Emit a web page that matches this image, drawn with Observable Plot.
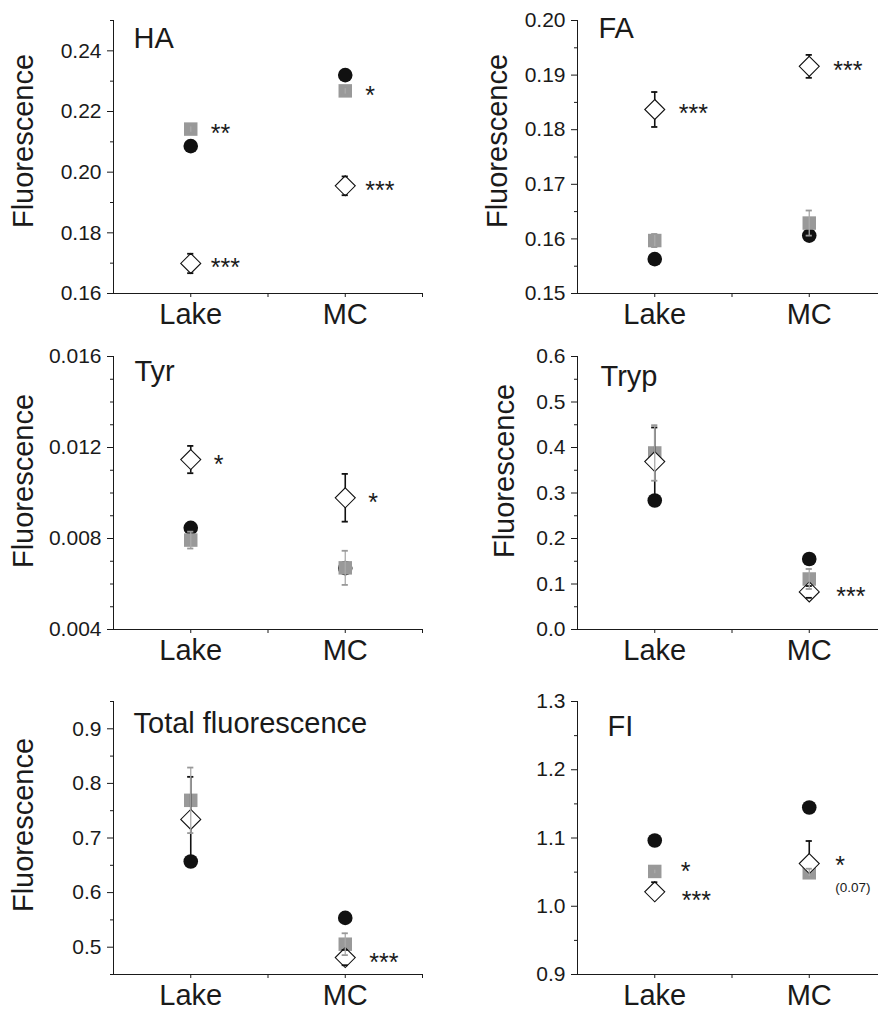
<!DOCTYPE html>
<html><head><meta charset="utf-8">
<script src="https://cdn.jsdelivr.net/npm/d3@7"></script>
<script src="https://cdn.jsdelivr.net/npm/@observablehq/plot@0.6"></script>
<style>
body{margin:0;background:#fff;}
#wrap{position:relative;width:878px;height:1012px;overflow:hidden;font-family:"Liberation Sans",Arial,sans-serif;color:#1a1a1a;}
.panel{position:absolute;width:440px;height:338px;}
.panel svg{max-width:none !important;width:440px !important;height:338px !important;}
</style></head><body><div id="wrap"></div>
<script>
// ---------- data ----------
const categories = ["Lake", "MC"];
const xDomain = [0.5, 2.5];
const xMinorTicks = [1.5, 2.5];

// HA
const HA_yDomain = [0.16, 0.25];
const HA_ticks = [0.16, 0.18, 0.20, 0.22, 0.24];
const HA_minor = [0.17, 0.19, 0.21, 0.23, 0.25];
const HA_circle = [0.2086, 0.2320];
const HA_square = [0.2142, 0.2268];
const HA_squareErr = [0.0012, 0.0012];
const HA_diamond = [0.1699, 0.1955];
const HA_diamondErr = [0.0032, 0.0031];
const HA_sigSquare = ["**", "*"];
const HA_sigDiamond = ["***", "***"];

// FA
const FA_yDomain = [0.15, 0.20];
const FA_ticks = [0.15, 0.16, 0.17, 0.18, 0.19, 0.20];
const FA_minor = [0.155, 0.165, 0.175, 0.185, 0.195];
const FA_circle = [0.1563, 0.1606];
const FA_square = [0.1597, 0.1629];
const FA_squareErr = [0.0012, 0.0023];
const FA_diamond = [0.1837, 0.1916];
const FA_diamondErr = [0.0032, 0.0021];
const FA_sigSquare = ["", ""];
const FA_sigDiamond = ["***", "***"];

// Tyr
const Tyr_yDomain = [0.004, 0.016];
const Tyr_ticks = [0.004, 0.008, 0.012, 0.016];
const Tyr_minor = [0.005, 0.006, 0.007, 0.009, 0.010, 0.011, 0.013, 0.014, 0.015];
const Tyr_circle = [0.00847, 0.0067];
const Tyr_square = [0.00793, 0.00671];
const Tyr_squareErr = [0.00037, 0.00075];
const Tyr_diamond = [0.01147, 0.00979];
const Tyr_diamondErr = [0.0006, 0.00105];
const Tyr_sigSquare = ["", ""];
const Tyr_sigDiamond = ["*", "*"];

// Tryp
const Tryp_yDomain = [0, 0.6];
const Tryp_ticks = [0, 0.1, 0.2, 0.3, 0.4, 0.5, 0.6];
const Tryp_minor = [0.05, 0.15, 0.25, 0.35, 0.45, 0.55];
const Tryp_circle = [0.2835, 0.155];
const Tryp_square = [0.388, 0.111];
const Tryp_squareErr = [0.061, 0.022];
const Tryp_diamond = [0.369, 0.0826];
const Tryp_diamondErr = [0.075, 0.013];
const Tryp_sigSquare = ["", ""];
const Tryp_sigDiamond = ["", "***"];

// Total fluorescence
const Total_yDomain = [0.45, 0.95];
const Total_ticks = [0.5, 0.6, 0.7, 0.8, 0.9];
const Total_minor = [0.45, 0.55, 0.65, 0.75, 0.85, 0.95];
const Total_circle = [0.657, 0.5537];
const Total_square = [0.769, 0.5055];
const Total_squareErr = [0.060, 0.020];
const Total_diamond = [0.734, 0.481];
const Total_diamondErr = [0.078, 0.014];
const Total_sigSquare = ["", ""];
const Total_sigDiamond = ["", "***"];

// FI
const FI_yDomain = [0.9, 1.3];
const FI_ticks = [0.9, 1.0, 1.1, 1.2, 1.3];
const FI_minor = [0.95, 1.05, 1.15, 1.25];
const FI_circle = [1.0963, 1.1447];
const FI_square = [1.051, 1.049];
const FI_squareErr = [0.004, 0.006];
const FI_diamond = [1.0212, 1.0626];
const FI_diamondErr = [0.014, 0.033];
const FI_diamondErrLow = [0, 0];
const FI_sigSquare = ["*", ""];
const FI_sigDiamond = ["***", "*"];
const FI_noteDiamond = ["", "(0.07)"];

// ---------- drawing ----------
const INK = "#1a1a1a";
const GREY = "#999999";
const FONT = '"Liberation Sans", Arial, sans-serif';
const capHalf = 0.02;
const SVG_W = 440, SVG_H = 338, M_TOP = 20, M_BOTTOM = 45;
const STAR_SIZE = 25;

function panel(cfg) {
  const low = cfg.diamondErrLow || cfg.diamondErr;
  const rows = categories.map((c, i) => ({
    x: i + 1,
    circle: cfg.circle[i],
    square: cfg.square[i],
    sqErr: cfg.squareErr[i],
    diamond: cfg.diamond[i],
    dErr: cfg.diamondErr[i],
    dErrLow: low[i]
  }));
  const lowRows = rows.filter(d => d.dErrLow > 0);
  const topRows = rows.filter(d => d.dErr > 0);
  const pxPerUnit = (SVG_H - M_TOP - M_BOTTOM) / (cfg.yDomain[1] - cfg.yDomain[0]);
  const notes = [];      // normal significance labels
  const notesUp = [];    // upper label of a close pair (nudged up)
  const notesDown = [];  // lower label of a close pair (nudged down)
  categories.forEach((c, i) => {
    const s = cfg.sigSquare[i], dm = cfg.sigDiamond[i];
    const gap = Math.abs(cfg.square[i] - cfg.diamond[i]) * pxPerUnit;
    const sq = {x: i + 1, y: cfg.square[i], label: s};
    const di = {x: i + 1, y: cfg.diamond[i], label: dm};
    if (s && dm && gap < 30) {
      const squareAbove = cfg.square[i] > cfg.diamond[i];
      (squareAbove ? notesUp : notesDown).push(sq);
      (squareAbove ? notesDown : notesUp).push(di);
    } else {
      if (s) notes.push(sq);
      if (dm) notes.push(di);
    }
  });
  const small = [];
  if (cfg.noteDiamond) categories.forEach((c, i) => {
    if (cfg.noteDiamond[i]) small.push({x: i + 1, y: cfg.diamond[i], label: cfg.noteDiamond[i]});
  });
  const starOpts = {x: "x", y: "y", text: "label", dx: cfg.sigDx, fontSize: STAR_SIZE, textAnchor: "start", fill: INK};

  const marks = [
    Plot.ruleX([xDomain[0]], {stroke: INK, strokeWidth: 1}),
    Plot.ruleY([cfg.yDomain[0]], {stroke: INK, strokeWidth: 1}),
    Plot.axisY({ticks: cfg.ticks, tickSize: 6, tickPadding: 6, tickFormat: d3.format(cfg.fmt), fontSize: 21, label: null, stroke: INK, fill: INK}),
    Plot.axisY({ticks: cfg.minor, tickSize: 3, tickFormat: () => "", label: null, stroke: INK}),
    Plot.axisX({ticks: [1, 2], tickSize: 4, tickPadding: 6, tickFormat: d => categories[d - 1], fontSize: 29, label: null, stroke: INK, fill: INK}),
    Plot.axisX({ticks: xMinorTicks, tickSize: 4, tickFormat: () => "", label: null, stroke: INK}),
    Plot.text([cfg.title], {frameAnchor: "top-left", dx: cfg.titleDx, dy: cfg.titleDy, fontSize: 29, textAnchor: "start", lineAnchor: "top", fill: INK}),
    // circles
    Plot.dot(rows, {x: "x", y: "circle", r: 7.3, fill: "#111"}),
    // squares
    Plot.dot(rows, {x: "x", y: "square", r: 7.6, symbol: "square", fill: GREY}),
    // diamond bars (behind)
    Plot.ruleX(rows, {x: "x", y1: d => d.diamond - d.dErrLow, y2: d => d.diamond + d.dErr, stroke: "#111", strokeWidth: 1.6}),
    // diamonds
    Plot.dot(rows, {x: "x", y: "diamond", r: 9, symbol: "diamond2", fill: "white", stroke: "#111", strokeWidth: 1.1}),
    // diamond caps
    Plot.ruleY(topRows, {y: d => d.diamond + d.dErr, x1: d => d.x - capHalf, x2: d => d.x + capHalf, stroke: "#111", strokeWidth: 1.8}),
    Plot.ruleY(lowRows, {y: d => d.diamond - d.dErrLow, x1: d => d.x - capHalf, x2: d => d.x + capHalf, stroke: "#111", strokeWidth: 1.8}),
    // grey bars on top
    Plot.ruleX(rows, {x: "x", y1: d => d.square - d.sqErr, y2: d => d.square + d.sqErr, stroke: "#aaaaaa", strokeWidth: 1.3}),
    Plot.ruleY(rows, {y: d => d.square + d.sqErr, x1: d => d.x - capHalf, x2: d => d.x + capHalf, stroke: GREY, strokeWidth: 1.8}),
    Plot.ruleY(rows, {y: d => d.square - d.sqErr, x1: d => d.x - capHalf, x2: d => d.x + capHalf, stroke: GREY, strokeWidth: 1.8}),
    // significance marks
    Plot.text(notes, {...starOpts, dy: cfg.small ? 2 : 5}),
    Plot.text(notesUp, {...starOpts, dy: 1}),
    Plot.text(notesDown, {...starOpts, dx: cfg.sigDx + 1, dy: 9}),
    Plot.text(small, {x: "x", y: "y", text: "label", dx: 26, dy: 24, fontSize: 13.5, textAnchor: "start", fill: INK})
  ];
  if (cfg.showLabel) {
    marks.push(Plot.text(["Fluorescence"], {frameAnchor: "left", rotate: -90, dx: cfg.labelDx, dy: cfg.labelDy, fontSize: 29, textAnchor: "middle", fill: INK}));
  }
  const svg = Plot.plot({
    width: SVG_W,
    height: SVG_H,
    marginLeft: 113,
    marginRight: 18,
    marginTop: M_TOP,
    marginBottom: M_BOTTOM,
    x: {domain: xDomain},
    y: {domain: cfg.yDomain},
    style: {fontFamily: FONT, background: "transparent", color: INK, overflow: "visible", maxWidth: "none"},
    marks
  });
  const div = document.createElement("div");
  div.className = "panel";
  div.style.left = cfg.left + "px";
  div.style.top = cfg.top + "px";
  div.appendChild(svg);
  document.getElementById("wrap").appendChild(div);
}

panel({title: "HA", left: 0, top: 0, yDomain: HA_yDomain, ticks: HA_ticks, minor: HA_minor, fmt: ".2f",
  circle: HA_circle, square: HA_square, squareErr: HA_squareErr, diamond: HA_diamond, diamondErr: HA_diamondErr,
  sigSquare: HA_sigSquare, sigDiamond: HA_sigDiamond, sigDx: 20, titleDx: 20, titleDy: 7, showLabel: true, labelDx: -90, labelDy: -16});
panel({title: "FA", left: 464, top: 0, yDomain: FA_yDomain, ticks: FA_ticks, minor: FA_minor, fmt: ".2f",
  circle: FA_circle, square: FA_square, squareErr: FA_squareErr, diamond: FA_diamond, diamondErr: FA_diamondErr,
  sigSquare: FA_sigSquare, sigDiamond: FA_sigDiamond, sigDx: 24, titleDx: 21, titleDy: -3, showLabel: true, labelDx: -80, labelDy: -16});
panel({title: "Tyr", left: 0, top: 336, yDomain: Tyr_yDomain, ticks: Tyr_ticks, minor: Tyr_minor, fmt: ".3f",
  circle: Tyr_circle, square: Tyr_square, squareErr: Tyr_squareErr, diamond: Tyr_diamond, diamondErr: Tyr_diamondErr,
  sigSquare: Tyr_sigSquare, sigDiamond: Tyr_sigDiamond, sigDx: 23, titleDx: 21, titleDy: 4, showLabel: true, labelDx: -90, labelDy: -12});
panel({title: "Tryp", left: 464, top: 336, yDomain: Tryp_yDomain, ticks: Tryp_ticks, minor: Tryp_minor, fmt: ".1f",
  circle: Tryp_circle, square: Tryp_square, squareErr: Tryp_squareErr, diamond: Tryp_diamond, diamondErr: Tryp_diamondErr,
  sigSquare: Tryp_sigSquare, sigDiamond: Tryp_sigDiamond, sigDx: 27, titleDx: 23, titleDy: 9, showLabel: true, labelDx: -73, labelDy: -22});
panel({title: "Total fluorescence", left: 0, top: 680.7, yDomain: Total_yDomain, ticks: Total_ticks, minor: Total_minor, fmt: ".1f",
  circle: Total_circle, square: Total_square, squareErr: Total_squareErr, diamond: Total_diamond, diamondErr: Total_diamondErr,
  sigSquare: Total_sigSquare, sigDiamond: Total_sigDiamond, sigDx: 24, titleDx: 20, titleDy: 11, showLabel: true, labelDx: -90, labelDy: -13});
panel({title: "FI", left: 464, top: 680.7, yDomain: FI_yDomain, ticks: FI_ticks, minor: FI_minor, fmt: ".1f",
  circle: FI_circle, square: FI_square, squareErr: FI_squareErr, diamond: FI_diamond, diamondErr: FI_diamondErr, diamondErrLow: FI_diamondErrLow,
  sigSquare: FI_sigSquare, sigDiamond: FI_sigDiamond, noteDiamond: FI_noteDiamond, small: true, sigDx: 26, titleDx: 30, titleDy: 14, showLabel: false});
</script>
</body></html>
